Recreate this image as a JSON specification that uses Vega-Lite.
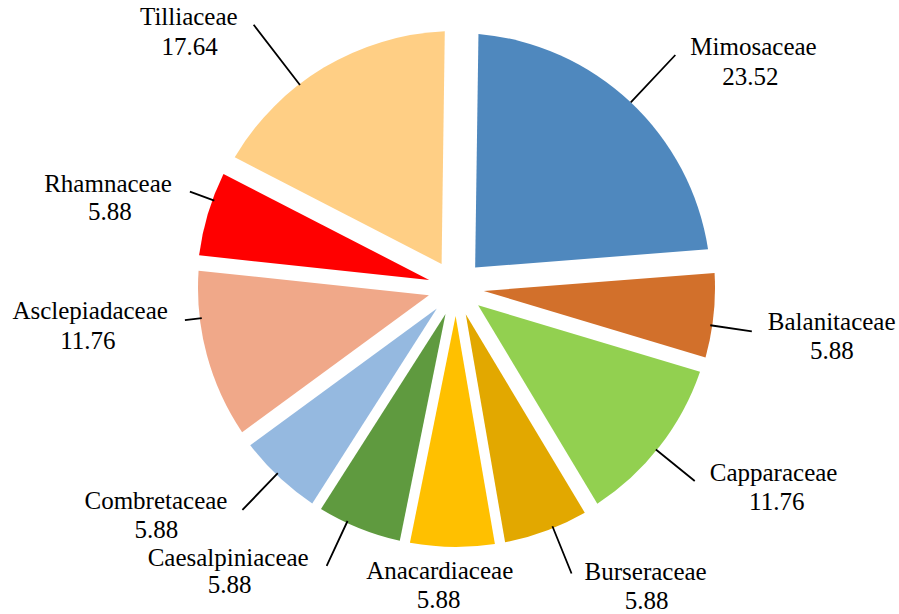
{
  "$schema": "https://vega.github.io/schema/vega-lite/v6.json",
  "width": 880,
  "height": 576,
  "autosize": {"type": "none"},
  "padding": {"left": 16, "top": 0, "right": 3, "bottom": 38},
  "background": "#ffffff",
  "config": {"view": {"stroke": null}, "text": {"font": "Liberation Serif", "fontSize": 25, "color": "#000000", "baseline": "alphabetic"}},
  "data": {"values": [
    {"k": 1, "f": "Mimosaceae", "v": 23.52},
    {"k": 2, "f": "Balanitaceae", "v": 5.88},
    {"k": 3, "f": "Capparaceae", "v": 11.76},
    {"k": 4, "f": "Burseraceae", "v": 5.88},
    {"k": 5, "f": "Anacardiaceae", "v": 5.88},
    {"k": 6, "f": "Caesalpiniaceae", "v": 5.88},
    {"k": 7, "f": "Combretaceae", "v": 5.88},
    {"k": 8, "f": "Asclepiadaceae", "v": 11.76},
    {"k": 9, "f": "Rhamnaceae", "v": 5.88},
    {"k": 10, "f": "Tilliaceae", "v": 17.64}
  ]},
  "encoding": {
    "theta": {"field": "v", "type": "quantitative", "stack": true, "scale": {"range": [0.014, 6.2972]}},
    "order": {"field": "k", "type": "quantitative"},
    "detail": {"field": "f", "type": "nominal"}
  },
  "layer": [
    {"mark": {"type": "arc", "radius": 255, "radius2": 28, "padAngle": 0.1475},
     "encoding": {"color": {"field": "f", "type": "nominal", "legend": null, "scale": {"domain": ["Mimosaceae","Balanitaceae","Capparaceae","Burseraceae","Anacardiaceae","Caesalpiniaceae","Combretaceae","Asclepiadaceae","Rhamnaceae","Tilliaceae"], "range": ["#4F88BE","#D2702B","#92D050","#E2A800","#FFC000","#5F9A3F","#95B9E0","#F0A889","#FF0000","#FFCF85"]}},
      "opacity": {"condition": {"test": "datum.v > 20", "value": 1}, "value": 0}}},
    {"mark": {"type": "arc", "radius": 257, "radius2": 28, "padAngle": 0.1146},
     "encoding": {"color": {"field": "f", "type": "nominal", "legend": null},
      "opacity": {"condition": {"test": "datum.v > 17 && datum.v < 18", "value": 1}, "value": 0}}},
    {"mark": {"type": "arc", "radius": 258, "radius2": 28, "padAngle": 0.0782},
     "encoding": {"color": {"field": "f", "type": "nominal", "legend": null},
      "opacity": {"condition": {"test": "datum.v > 11 && datum.v < 12", "value": 1}, "value": 0}}},
    {"mark": {"type": "arc", "radius": 259, "radius2": 28, "padAngle": 0.0397},
     "encoding": {"color": {"field": "f", "type": "nominal", "legend": null},
      "opacity": {"condition": {"test": "datum.v < 6", "value": 1}, "value": 0}}},

    {"mark": {"type": "arc", "radius": 320, "radius2": 255, "padAngle": 3.2, "thetaOffset": 0.002, "theta2Offset": 0.002, "filled": false, "color": "#000000", "strokeWidth": 1.8},
     "encoding": {"opacity": {"condition": {"test": "datum.f === 'Mimosaceae'", "value": 1}, "value": 0}}},
    {"mark": {"type": "arc", "radius": 299, "radius2": 257, "padAngle": 3.2, "thetaOffset": 0.039, "theta2Offset": 0.039, "filled": false, "color": "#000000", "strokeWidth": 1.8},
     "encoding": {"opacity": {"condition": {"test": "datum.f === 'Balanitaceae'", "value": 1}, "value": 0}}},
    {"mark": {"type": "arc", "radius": 307, "radius2": 257, "padAngle": 3.2, "thetaOffset": 0.019, "theta2Offset": 0.019, "filled": false, "color": "#000000", "strokeWidth": 1.8},
     "encoding": {"opacity": {"condition": {"test": "datum.f === 'Capparaceae'", "value": 1}, "value": 0}}},
    {"mark": {"type": "arc", "radius": 308, "radius2": 257, "padAngle": 3.2, "thetaOffset": -0.029, "theta2Offset": -0.029, "filled": false, "color": "#000000", "strokeWidth": 1.8},
     "encoding": {"opacity": {"condition": {"test": "datum.f === 'Burseraceae'", "value": 1}, "value": 0}}},
    {"mark": {"type": "arc", "radius": 306.5, "radius2": 257, "padAngle": 3.2, "thetaOffset": 0.052, "theta2Offset": 0.052, "filled": false, "color": "#000000", "strokeWidth": 1.8},
     "encoding": {"opacity": {"condition": {"test": "datum.f === 'Caesalpiniaceae'", "value": 1}, "value": 0}}},
    {"mark": {"type": "arc", "radius": 308, "radius2": 257, "padAngle": 3.2, "thetaOffset": 0.013, "theta2Offset": 0.013, "filled": false, "color": "#000000", "strokeWidth": 1.8},
     "encoding": {"opacity": {"condition": {"test": "datum.f === 'Combretaceae'", "value": 1}, "value": 0}}},
    {"mark": {"type": "arc", "radius": 273, "radius2": 256, "padAngle": 3.2, "thetaOffset": 0.145, "theta2Offset": 0.145, "filled": false, "color": "#000000", "strokeWidth": 1.8},
     "encoding": {"opacity": {"condition": {"test": "datum.f === 'Asclepiadaceae'", "value": 1}, "value": 0}}},
    {"mark": {"type": "arc", "radius": 283, "radius2": 257, "padAngle": 3.2, "thetaOffset": 0.056, "theta2Offset": 0.056, "filled": false, "color": "#000000", "strokeWidth": 1.8},
     "encoding": {"opacity": {"condition": {"test": "datum.f === 'Rhamnaceae'", "value": 1}, "value": 0}}},
    {"mark": {"type": "arc", "radius": 332, "radius2": 256, "padAngle": 3.2, "thetaOffset": -0.115, "theta2Offset": -0.115, "filled": false, "color": "#000000", "strokeWidth": 1.8},
     "encoding": {"opacity": {"condition": {"test": "datum.f === 'Tilliaceae'", "value": 1}, "value": 0}}},

    {"mark": {"type": "text", "radius": 320, "thetaOffset": 0.002, "align": "left", "dx": 15, "dy": 0},
     "encoding": {"text": {"field": "f"}, "opacity": {"condition": {"test": "datum.f === 'Mimosaceae'", "value": 1}, "value": 0}}},
    {"mark": {"type": "text", "radius": 320, "thetaOffset": 0.002, "align": "center", "dx": 75, "dy": 30},
     "encoding": {"text": {"field": "v", "type": "quantitative", "format": ".2f"}, "opacity": {"condition": {"test": "datum.f === 'Mimosaceae'", "value": 1}, "value": 0}}},

    {"mark": {"type": "text", "radius": 299, "thetaOffset": 0.039, "align": "left", "dx": 16, "dy": -1},
     "encoding": {"text": {"field": "f"}, "opacity": {"condition": {"test": "datum.f === 'Balanitaceae'", "value": 1}, "value": 0}}},
    {"mark": {"type": "text", "radius": 299, "thetaOffset": 0.039, "align": "center", "dx": 80, "dy": 28},
     "encoding": {"text": {"field": "v", "type": "quantitative", "format": ".2f"}, "opacity": {"condition": {"test": "datum.f === 'Balanitaceae'", "value": 1}, "value": 0}}},

    {"mark": {"type": "text", "radius": 307, "thetaOffset": 0.019, "align": "left", "dx": 15, "dy": 0},
     "encoding": {"text": {"field": "f"}, "opacity": {"condition": {"test": "datum.f === 'Capparaceae'", "value": 1}, "value": 0}}},
    {"mark": {"type": "text", "radius": 307, "thetaOffset": 0.019, "align": "center", "dx": 82, "dy": 29},
     "encoding": {"text": {"field": "v", "type": "quantitative", "format": ".2f"}, "opacity": {"condition": {"test": "datum.f === 'Capparaceae'", "value": 1}, "value": 0}}},

    {"mark": {"type": "text", "radius": 308, "thetaOffset": -0.029, "align": "left", "dx": 13, "dy": 6},
     "encoding": {"text": {"field": "f"}, "opacity": {"condition": {"test": "datum.f === 'Burseraceae'", "value": 1}, "value": 0}}},
    {"mark": {"type": "text", "radius": 308, "thetaOffset": -0.029, "align": "center", "dx": 75, "dy": 35},
     "encoding": {"text": {"field": "v", "type": "quantitative", "format": ".2f"}, "opacity": {"condition": {"test": "datum.f === 'Burseraceae'", "value": 1}, "value": 0}}},

    {"mark": {"type": "text", "radius": 291, "thetaOffset": 0.042, "align": "center", "dx": 0, "dy": 0},
     "encoding": {"text": {"field": "f"}, "opacity": {"condition": {"test": "datum.f === 'Anacardiaceae'", "value": 1}, "value": 0}}},
    {"mark": {"type": "text", "radius": 291, "thetaOffset": 0.042, "align": "center", "dx": -1, "dy": 29},
     "encoding": {"text": {"field": "v", "type": "quantitative", "format": ".2f"}, "opacity": {"condition": {"test": "datum.f === 'Anacardiaceae'", "value": 1}, "value": 0}}},

    {"mark": {"type": "text", "radius": 306.5, "thetaOffset": 0.052, "align": "right", "dx": -18, "dy": 0},
     "encoding": {"text": {"field": "f"}, "opacity": {"condition": {"test": "datum.f === 'Caesalpiniaceae'", "value": 1}, "value": 0}}},
    {"mark": {"type": "text", "radius": 306.5, "thetaOffset": 0.052, "align": "center", "dx": -97, "dy": 27},
     "encoding": {"text": {"field": "v", "type": "quantitative", "format": ".2f"}, "opacity": {"condition": {"test": "datum.f === 'Caesalpiniaceae'", "value": 1}, "value": 0}}},

    {"mark": {"type": "text", "radius": 308, "thetaOffset": 0.013, "align": "right", "dx": -15, "dy": -1},
     "encoding": {"text": {"field": "f"}, "opacity": {"condition": {"test": "datum.f === 'Combretaceae'", "value": 1}, "value": 0}}},
    {"mark": {"type": "text", "radius": 308, "thetaOffset": 0.013, "align": "center", "dx": -86, "dy": 28},
     "encoding": {"text": {"field": "v", "type": "quantitative", "format": ".2f"}, "opacity": {"condition": {"test": "datum.f === 'Combretaceae'", "value": 1}, "value": 0}}},

    {"mark": {"type": "text", "radius": 273, "thetaOffset": 0.145, "align": "right", "dx": -17, "dy": -1},
     "encoding": {"text": {"field": "f"}, "opacity": {"condition": {"test": "datum.f === 'Asclepiadaceae'", "value": 1}, "value": 0}}},
    {"mark": {"type": "text", "radius": 273, "thetaOffset": 0.145, "align": "center", "dx": -97, "dy": 29},
     "encoding": {"text": {"field": "v", "type": "quantitative", "format": ".2f"}, "opacity": {"condition": {"test": "datum.f === 'Asclepiadaceae'", "value": 1}, "value": 0}}},

    {"mark": {"type": "text", "radius": 283, "thetaOffset": 0.056, "align": "right", "dx": -18, "dy": 0},
     "encoding": {"text": {"field": "f"}, "opacity": {"condition": {"test": "datum.f === 'Rhamnaceae'", "value": 1}, "value": 0}}},
    {"mark": {"type": "text", "radius": 283, "thetaOffset": 0.056, "align": "center", "dx": -80, "dy": 28},
     "encoding": {"text": {"field": "v", "type": "quantitative", "format": ".2f"}, "opacity": {"condition": {"test": "datum.f === 'Rhamnaceae'", "value": 1}, "value": 0}}},

    {"mark": {"type": "text", "radius": 332, "thetaOffset": -0.115, "align": "right", "dx": -16, "dy": 0},
     "encoding": {"text": {"field": "f"}, "opacity": {"condition": {"test": "datum.f === 'Tilliaceae'", "value": 1}, "value": 0}}},
    {"mark": {"type": "text", "radius": 332, "thetaOffset": -0.115, "align": "center", "dx": -64, "dy": 30},
     "encoding": {"text": {"field": "v", "type": "quantitative", "format": ".2f"}, "opacity": {"condition": {"test": "datum.f === 'Tilliaceae'", "value": 1}, "value": 0}}}
  ]
}
